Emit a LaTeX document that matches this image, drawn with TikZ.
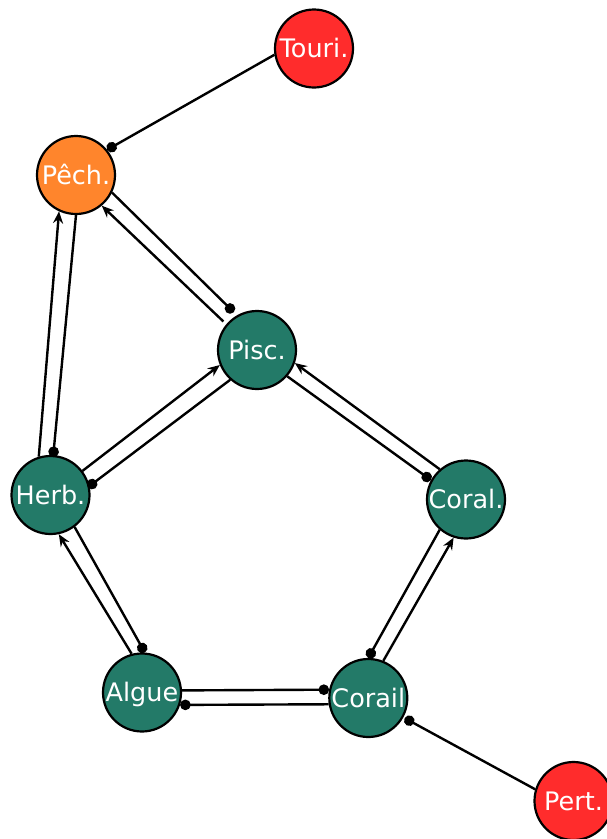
\documentclass[tikz,border=0pt]{standalone}
\usepackage{fontspec}
\setmainfont{DejaVu Sans}
\usetikzlibrary{arrows.meta}
\definecolor{tealg}{RGB}{35,122,104}
\definecolor{redn}{RGB}{255,44,44}
\definecolor{orangen}{RGB}{255,133,44}
\begin{document}
\begin{tikzpicture}[x=1pt,y=-1pt,
  nd/.style={circle, draw=black, line width=2.2pt, minimum size=78pt, inner sep=0pt,
    text=white, font=\fontsize{25.5}{25.5}\selectfont, text height=18.6pt, text depth=0pt},
  arr/.style={line width=2.4pt, -{Stealth[length=12pt,width=10pt,inset=4pt]}},
  dotl/.style={line width=2.4pt, -{Circle[length=10.5pt]}}]
\useasboundingbox (0,0) rectangle (607,839);
\clip (0,0) rectangle (607,839);
\node[nd, fill=redn] (T) at (314,48.5) {Touri.};
\node[nd, fill=orangen] (P) at (76,175) {Pêch.};
\node[nd, fill=tealg] (Pi) at (257,350) {Pisc.};
\node[nd, fill=tealg] (H) at (50.5,495) {Herb.};
\node[nd, fill=tealg] (Co) at (466,499.5) {Coral.};
\node[nd, fill=tealg] (A) at (142,692.5) {Algue};
\node[nd, fill=tealg] (Cr) at (368.3,698) {Corail};
\node[nd, fill=redn] (Pe) at (573.5,801) {Pert.};
% Herb - Pech
\draw[arr] (H.107.5) -- (P.245.3);
\draw[dotl, shorten >=-2pt] (P.270) -- (H.86);
% Pisc - Pech
\draw[arr, shorten <=4pt] (Pi.140.5) -- (P.310.2);
\draw[dotl, shorten >=4.5pt] (P.334.1) -- (Pi.120.6);
% Herb - Pisc
\draw[arr] (H.37.8) -- (Pi.202.1);
\draw[dotl, shorten >=-2pt] (Pi.228) -- (H.13.5);
% Coral - Pisc
\draw[arr] (Co.131.6) -- (Pi.341.7);
\draw[dotl] (Pi.319.5) -- (Co.151.7);
% Corail - Coral
\draw[arr] (Cr.68.2) -- (Co.252.8);
\draw[dotl] (Co.229.6) -- (Cr.90);
% Algue - Herb
\draw[arr] (A.105.4) -- (H.282.9);
\draw[dotl] (H.307) -- (A.86.1);
% Algue - Corail
\draw[dotl] (A.3.5) -- (Cr.168.5);
\draw[dotl] (Cr.189.4) -- (A.342.5);
% single links
\draw[dotl] (T.189.2) -- (P.39.8);
\draw[dotl, shorten >=1.5pt] (Pe.163.8) -- (Cr.331.8);
\end{tikzpicture}
\end{document}
